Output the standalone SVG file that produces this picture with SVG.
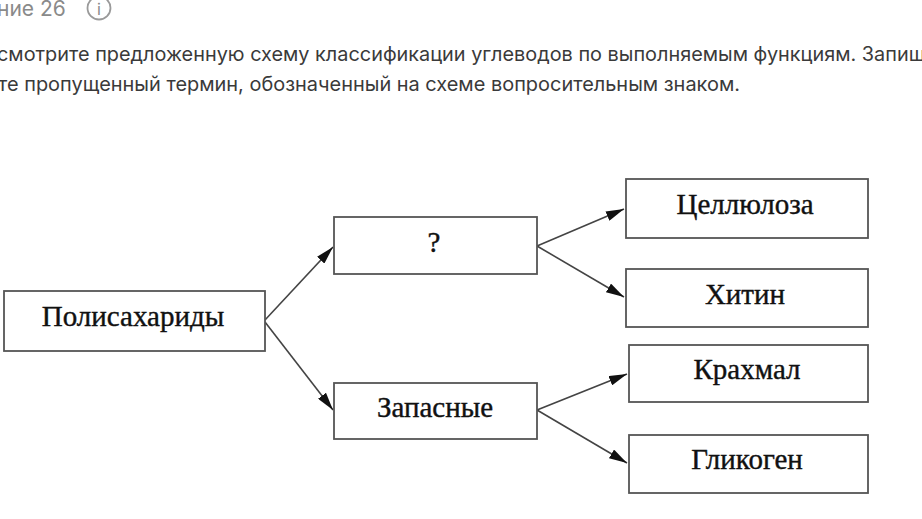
<svg xmlns="http://www.w3.org/2000/svg" width="922" height="519" viewBox="0 0 922 519">
<style>
.hdr{font-family:"Inter","Liberation Sans",sans-serif;fill:#3a3a3a;font-size:19.8px}
.box{fill:#fff;stroke:#555;stroke-width:1.8}
.lbl{font-family:"Liberation Serif","Times New Roman",serif;fill:#111;stroke:#111;stroke-width:0.4;font-size:29px;text-anchor:middle}
.ln{stroke:#444;stroke-width:1.6;fill:none;marker-end:url(#ah)}
</style>
<defs>
<marker id="ah" viewBox="0 0 18 10" refX="18" refY="5" markerWidth="18" markerHeight="10" markerUnits="userSpaceOnUse" orient="auto">
<path d="M0,0 L18,5 L0,10 z" fill="#111"/>
</marker>
</defs>
<rect width="922" height="519" fill="#fff"/>
<g id="header">
<text x="-3" y="16" class="hdr" style="fill:#8a8a8a;font-size:21px">ние 26</text>
<circle cx="99" cy="8" r="11.5" fill="none" stroke="#9a9a9a" stroke-width="1.8"/>
<text x="99" y="15" class="hdr" style="fill:#8a8a8a;font-size:16px" text-anchor="middle">i</text>
<text x="-3" y="61" class="hdr" textLength="928" lengthAdjust="spacingAndGlyphs">смотрите предложенную схему классификации углеводов по выполняемым функциям. Запиш</text>
<text x="-2" y="91" class="hdr" textLength="742" lengthAdjust="spacingAndGlyphs">те пропущенный термин, обозначенный на схеме вопросительным знаком.</text>
</g>
<g id="connectors">
<line x1="265" y1="320" x2="333" y2="247" class="ln"/>
<line x1="265" y1="322" x2="333" y2="410" class="ln"/>
<line x1="537" y1="246" x2="624" y2="209" class="ln"/>
<line x1="537" y1="246" x2="624" y2="297" class="ln"/>
<line x1="537" y1="410" x2="627" y2="374" class="ln"/>
<line x1="537" y1="410" x2="627" y2="463" class="ln"/>
</g>
<g id="polisaharidy"><rect x="4" y="291" width="261" height="60" class="box"/><text x="133" y="326" class="lbl">Полисахариды</text></g>
<g id="unknown"><rect x="334" y="217" width="203" height="57" class="box"/><text x="434" y="252" class="lbl">?</text></g>
<g id="zapasnye"><rect x="334" y="383" width="203" height="56" class="box"/><text x="435" y="417" class="lbl">Запасные</text></g>
<g id="cellulose"><rect x="626" y="179" width="242" height="59" class="box"/><text x="745" y="214" class="lbl">Целлюлоза</text></g>
<g id="hitin"><rect x="626" y="269" width="242" height="58" class="box"/><text x="745" y="304" class="lbl">Хитин</text></g>
<g id="krahmal"><rect x="629" y="345" width="239" height="57" class="box"/><text x="747" y="379" class="lbl">Крахмал</text></g>
<g id="glikogen"><rect x="629" y="435" width="239" height="58" class="box"/><text x="747" y="469" class="lbl">Гликоген</text></g>
</svg>
